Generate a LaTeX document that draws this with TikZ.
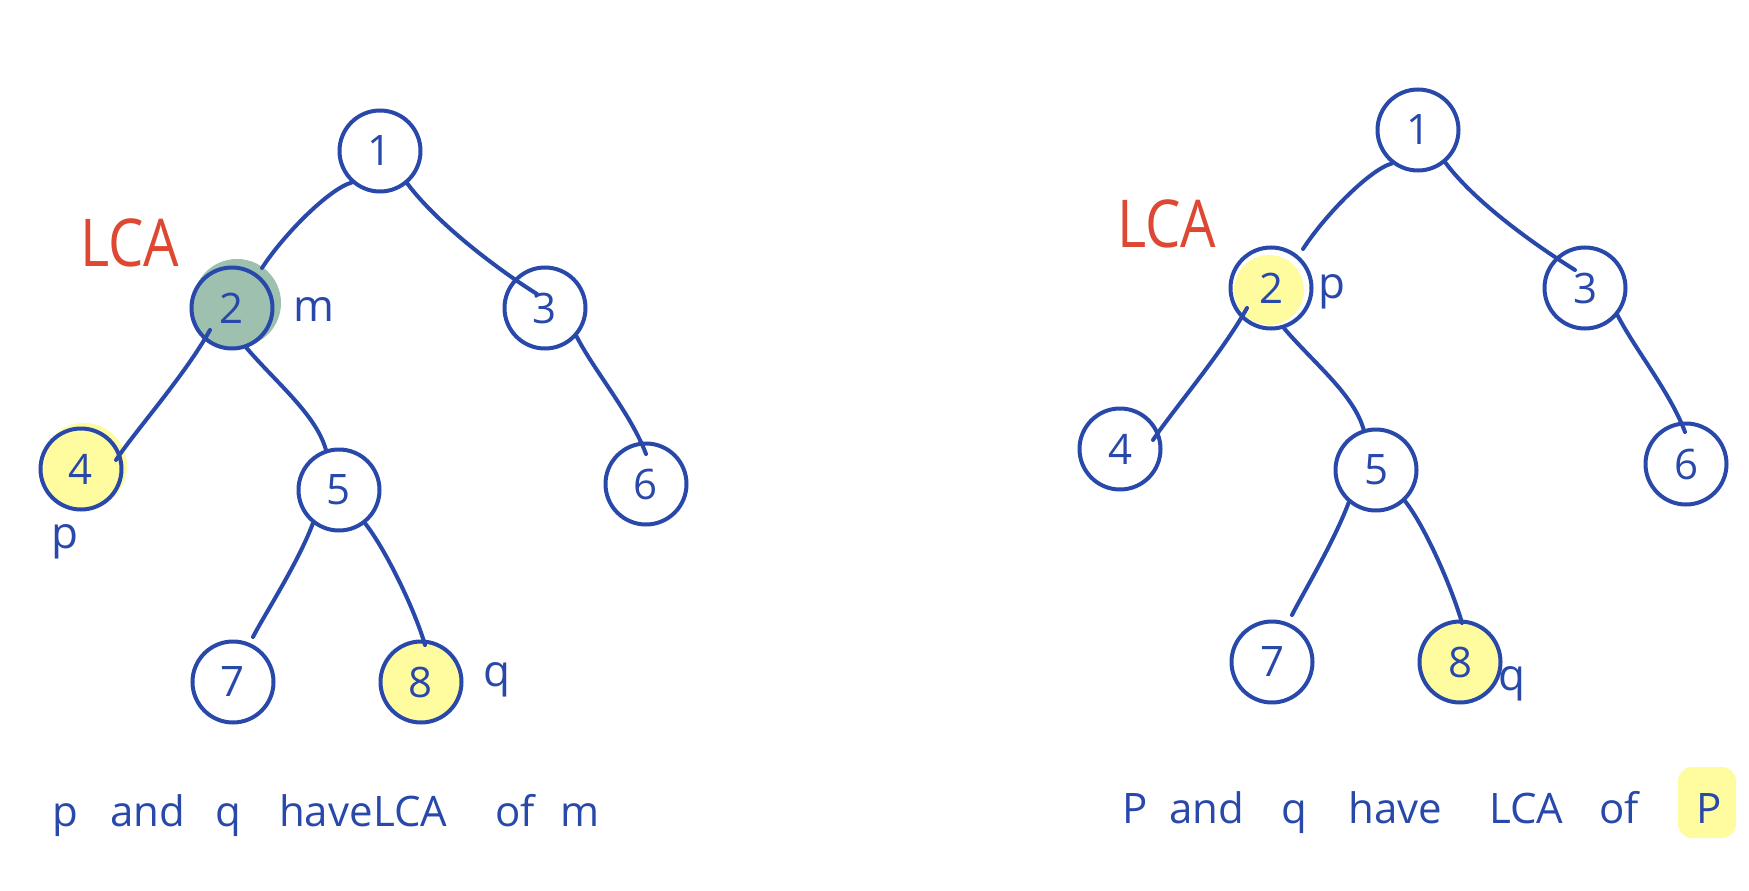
\documentclass[tikz,border=0pt]{standalone}
\usepackage{fontspec}
\setmainfont{Open Sans}
\definecolor{inkblue}{RGB}{40,72,170}
\definecolor{inkred}{RGB}{222,72,50}
\definecolor{lcagreen}{RGB}{158,192,174}
\definecolor{hlyellow}{RGB}{255,252,160}
\begin{document}
\begin{tikzpicture}[x=1pt,y=-1pt,
  tnode/.style={circle, draw=inkblue, line width=4pt, minimum size=81pt, inner sep=0pt,
    font=\fontsize{42}{42}\selectfont, text=inkblue},
  edge/.style={draw=inkblue, line width=4pt, line cap=round},
  lbl/.style={text=inkblue, font=\fontsize{44}{44}\selectfont, inner sep=0pt},
  word/.style={text=inkblue, font=\fontsize{42}{42}\selectfont, inner sep=0pt, anchor=base west},
  lca/.style={text=inkred, font=\fontsize{66}{66}\selectfont, inner sep=0pt, anchor=base west}]
\useasboundingbox (0,0) rectangle (1749,891);
\fill[white] (0,0) rectangle (1749,891);

% ---------- left tree ----------
\fill[lcagreen] (237,303) circle (44);
\fill[hlyellow] (84,466) circle (43);
\node[tnode] (L1) at (380,151) {1};
\node[tnode, fill=lcagreen] (L2) at (232,308) {2};
\node[tnode] (L3) at (545,308) {3};
\node[tnode, fill=hlyellow] (L4) at (81,469) {4};
\node[tnode] (L5) at (339,490) {5};
\node[tnode] (L6) at (646,484) {6};
\node[tnode] (L7) at (233,682) {7};
\node[tnode, fill=hlyellow] (L8) at (421,682) {8};

\draw[edge] (L1.228) .. controls +(-22,6) and +(22,-34) .. ([shift={(30,-40)}]L2.center);
\draw[edge] (L1.-50) .. controls +(30,40) and +(-40,-25) .. ([shift={(-8,-14)}]L3.center);
\draw[edge] ([shift={(-22,22)}]L2.center) .. controls +(-25,45) and +(20,-30) .. ([shift={(35,-9)}]L4.center);
\draw[edge] (L2.-70) .. controls +(30,35) and +(-10,-35) .. (L5.108);
\draw[edge] (L3.-42) .. controls +(18,35) and +(-15,-40) .. ([shift={(0,-30)}]L6.center);
\draw[edge] (L5.-128) .. controls +(-15,40) and +(10,-20) .. ([shift={(20,-45)}]L7.center);
\draw[edge] (L5.-52) .. controls +(20,25) and +(-10,-35) .. ([shift={(4,-37)}]L8.center);

\node[lca] (LlcaL) at (80,266) {\scalebox{0.85}[1]{LCA}};
\node[lbl] (Lm) at (314,310) {m};
\node[lbl] (Lp) at (65,542) {p};
\node[lbl] (Lq) at (497,680) {q};

\node[word] (Lw1) at (52,826) {p};
\node[word] (Lw2) at (110,826) {and};
\node[word] (Lw3) at (215,826) {q};
\node[word] (Lw4) at (279,826) {have};
\node[word] (Lw5) at (373,826) {LCA};
\node[word] (Lw6) at (495,826) {of};
\node[word] (Lw7) at (560,826) {m};

% ---------- right tree ----------
\node[tnode] (R1) at (1418,130) {1};
\fill[hlyellow] (1269,290) circle (35);
\node[tnode] (R2) at (1271,288) {2};
\node[tnode] (R3) at (1585,288) {3};
\node[tnode] (R4) at (1120,449) {4};
\node[tnode] (R5) at (1376,470) {5};
\node[tnode] (R6) at (1686,464) {6};
\node[tnode] (R7) at (1272,662) {7};
\node[tnode, fill=hlyellow] (R8) at (1460,662) {8};

\draw[edge] (R1.232) .. controls +(-22,6) and +(22,-34) .. ([shift={(32,-39)}]R2.center);
\draw[edge] (R1.-50) .. controls +(30,40) and +(-40,-25) .. ([shift={(-10,-18)}]R3.center);
\draw[edge] ([shift={(-24,20)}]R2.center) .. controls +(-25,45) and +(20,-30) .. ([shift={(33,-9)}]R4.center);
\draw[edge] (R2.-72) .. controls +(30,35) and +(-10,-35) .. (R5.107);
\draw[edge] (R3.-40) .. controls +(18,35) and +(-15,-40) .. ([shift={(-1,-32)}]R6.center);
\draw[edge] (R5.-130) .. controls +(-15,40) and +(10,-20) .. ([shift={(20,-47)}]R7.center);
\draw[edge] (R5.-47) .. controls +(20,25) and +(-10,-35) .. ([shift={(2,-39)}]R8.center);

\node[lca] (RlcaL) at (1117,247) {\scalebox{0.85}[1]{LCA}};
\node[lbl] (Rp) at (1332,292) {p};
\node[lbl] (Rq) at (1512,684) {q};

\fill[hlyellow, rounded corners=14pt] (1678,767) rectangle (1736,838);
\node[word] (Rw1) at (1122,823) {P};
\node[word] (Rw2) at (1169,823) {and};
\node[word] (Rw3) at (1281,823) {q};
\node[word] (Rw4) at (1348,823) {have};
\node[word] (Rw5) at (1489,823) {LCA};
\node[word] (Rw6) at (1599,823) {of};
\node[word] (Rw7) at (1696,823) {P};
\end{tikzpicture}
\end{document}
